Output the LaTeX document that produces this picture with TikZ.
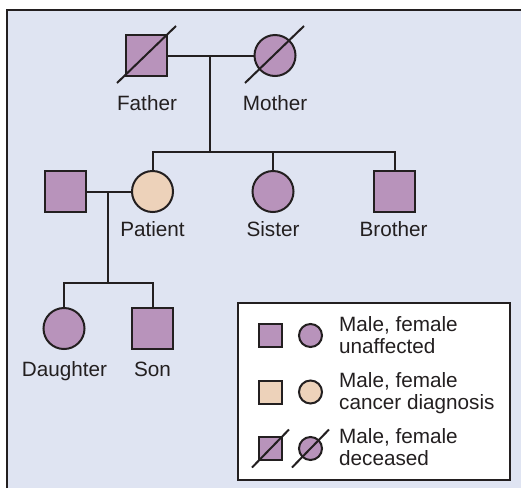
\documentclass[tikz,border=0pt]{standalone}
\usepackage{fontspec}
\setmainfont{Liberation Sans}
\definecolor{ppl}{HTML}{B893BB}
\definecolor{peach}{HTML}{EDD2BA}
\definecolor{bgc}{HTML}{DFE4F2}
\definecolor{ink}{HTML}{231F20}
\begin{document}
\begin{tikzpicture}[x=1pt,y=-1pt,
  ln/.style={draw=ink,line width=2pt},
  male/.style={rectangle,draw=ink,line width=2pt,fill=ppl,minimum size=41pt,inner sep=0pt},
  female/.style={circle,draw=ink,line width=2pt,fill=ppl,minimum size=41pt,inner sep=0pt},
  smale/.style={male,minimum size=23pt},
  sfemale/.style={female,minimum size=23pt},
  lbl/.style={anchor=base,inner sep=0pt,text=ink,font=\fontsize{20.7}{22.5}\selectfont},
  legtxt/.style={anchor=north west,inner sep=0pt,align=left,text=ink,font=\fontsize{20.7}{22.5}\selectfont}]
\useasboundingbox (0,0) rectangle (521,488);
% background panel
\fill[bgc] (7,10) rectangle (521,488);
\draw[ink,line width=2.5pt] (7,488) -- (7,10) -- (521,10);

% generation I
\node[male] (father) at (146.5,55.5) {};
\node[female] (mother) at (275,55.5) {};
\node[lbl] (lfather) at (147,110.5) {Father};
\node[lbl] (lmother) at (275,110.5) {Mother};
\coordinate (m1) at (210,55.5);
\coordinate (sib) at (210,152);
\draw[ln] (father.east) -- (mother.west);
\draw[ln] (m1) -- (sib);
\draw[ink,line width=2pt] (father.center) ++(-29.5,27.5) -- ++(59,-57);
\draw[ink,line width=2pt] (mother.center) ++(-30,27.5) -- ++(59,-57);

% generation II
\node[male] (husband) at (65,191.5) {};
\node[female,fill=peach] (patient) at (152.5,191.5) {};
\node[female] (sister) at (273,191.5) {};
\node[male] (brother) at (394.5,191.5) {};
\node[lbl] (lpatient) at (152.5,236.5) {Patient};
\node[lbl] (lsister) at (273,236.5) {Sister};
\node[lbl] (lbrother) at (393.5,236.5) {Brother};
\draw[ln] (patient.north) -- (patient.north |- sib) -- (brother.north |- sib) -- (brother.north);
\draw[ln] (sister.north) -- (sister.north |- sib);
\coordinate (m2) at (108,191.5);
\coordinate (kids) at (108,283);
\draw[ln] (husband.east) -- (patient.west);
\draw[ln] (m2) -- (kids);

% generation III
\node[female] (daughter) at (64,328.5) {};
\node[male] (son) at (152.5,328.5) {};
\node[lbl] (ldaughter) at (64.5,376) {Daughter};
\node[lbl] (lson) at (152.5,376) {Son};
\draw[ln] (daughter.north) -- (daughter.north |- kids) -- (son.north |- kids) -- (son.north);

% legend
\node[draw=ink,line width=2.5pt,fill=white,minimum width=272pt,minimum height=177pt,inner sep=0pt] (legend) at (374,391.5) {};
\node[smale] (lm1) at (270.5,335.5) {};
\node[sfemale] (lf1) at (310.5,335.5) {};
\node[smale,fill=peach] (lm2) at (270.5,392) {};
\node[sfemale,fill=peach] (lf2) at (310.5,392) {};
\node[smale] (lm3) at (270.5,448.5) {};
\node[sfemale] (lf3) at (310.5,448.5) {};
\draw[ink,line width=2pt] (lm3.center) ++(-18.5,19) -- ++(37,-38);
\draw[ink,line width=2pt] (lf3.center) ++(-18.5,19) -- ++(37,-38);
\node[legtxt] (t1) at (339,316) {Male, female\\unaffected};
\node[legtxt] (t2) at (339,372) {Male, female\\cancer diagnosis};
\node[legtxt] (t3) at (339,428) {Male, female\\deceased};
\end{tikzpicture}
\end{document}
